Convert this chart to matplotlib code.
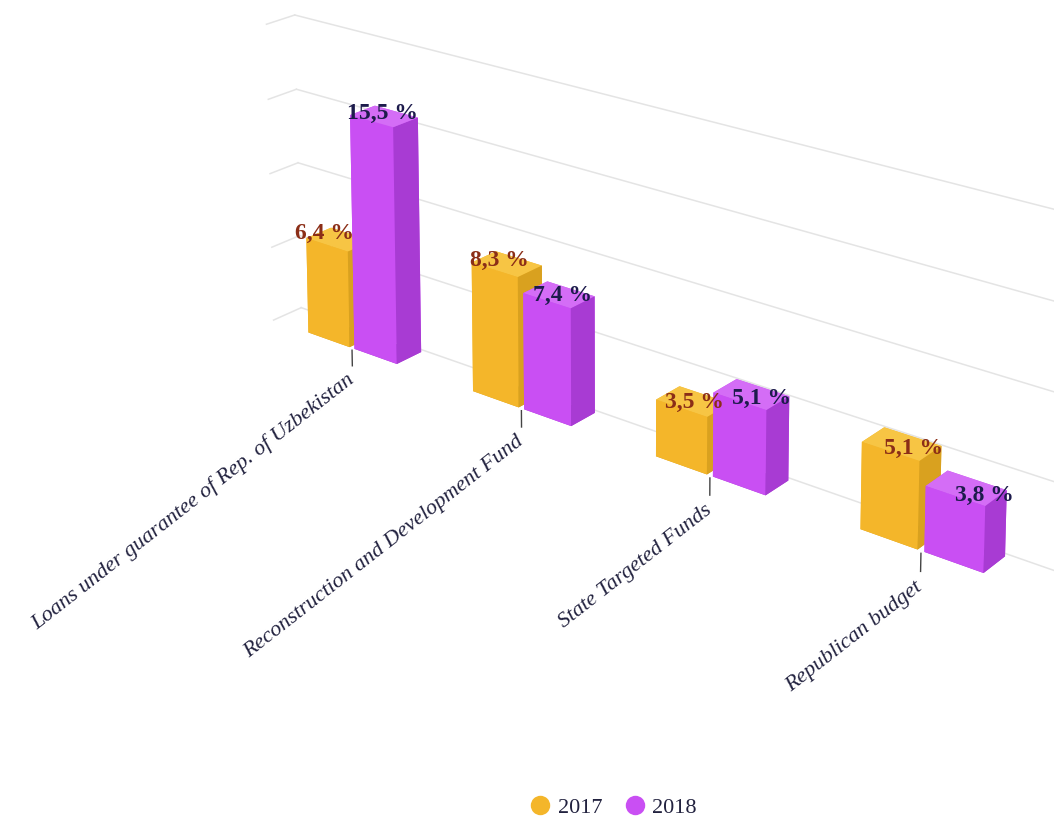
import numpy as np
import matplotlib
matplotlib.use("Agg")
import matplotlib.pyplot as plt
from matplotlib.lines import Line2D
from mpl_toolkits.mplot3d import proj3d

# ---------------- data ----------------
categories = ["Loans under guarantee of Rep. of Uzbekistan",
              "Reconstruction and Development Fund",
              "State Targeted Funds",
              "Republican budget"]
series_names = ["2017", "2018"]
values_2017 = [6.4, 8.3, 3.5, 5.1]
values_2018 = [15.5, 7.4, 5.1, 3.8]
labels_2017 = ["6,4 %", "8,3 %", "3,5 %", "5,1 %"]
labels_2018 = ["15,5 %", "7,4 %", "5,1 %", "3,8 %"]
grid_values = [0, 5, 10, 15, 20]

# ---------------- style ----------------
plt.rcParams['font.family'] = ['Liberation Serif', 'DejaVu Serif']

c2017 = dict(front='#f4b62a', top='#f7c544', side='#d9a11f', label='#8b2e17')
c2018 = dict(front='#c94ff3', top='#d46df6', side='#a83bd3', label='#1d1b4c')
grid_color = '#e4e4e4'
text_color = '#22223f'

W, H = 1054, 827
bar_w = 0.26
gap = 0.03
bar_d = 0.16
depth = 0.18

fig = plt.figure(figsize=(W / 100, H / 100), dpi=100)
ax = fig.add_axes([-0.3, -0.4, 1.6, 1.8], projection='3d', computed_zorder=False)
ax.set_proj_type('persp', focal_length=0.5)
ax.set_axis_off()

n = len(categories)
xs = np.arange(n, dtype=float)
x2017 = xs - gap / 2 - bar_w
x2018 = xs + gap / 2


def faces(c):
    # order: bottom, top, front(-y), back(+y), left(-x), right(+x)
    return [c['side'], c['top'], c['front'], c['front'], c['front'], c['side']]

bx, by, bz, dx, dy, dz, cols = [], [], [], [], [], [], []
for i in range(n):
    for x0, v, c in ((x2017[i], values_2017[i], c2017), (x2018[i], values_2018[i], c2018)):
        bx.append(x0); by.append(0.0); bz.append(0.0)
        dx.append(bar_w); dy.append(bar_d); dz.append(v)
        cols.extend(faces(c))

# grid lines: left wall + back wall
xmin, xmax = -0.5, n + 1.5
for g in grid_values:
    ax.plot([xmin, xmin], [0, depth], [g, g], color=grid_color, lw=1.1, zorder=1)
    ax.plot([xmin, xmax], [depth, depth], [g, g], color=grid_color, lw=1.1, zorder=1)

ax.bar3d(bx, by, bz, dx, dy, dz, color=cols, shade=False, zorder=2,
         edgecolor='none', linewidth=0)

# x-axis ticks
for i in range(n):
    ax.plot([xs[i], xs[i]], [0, 0], [-0.15, -1.2], color='#444444', lw=1.0, zorder=3)

ax.set_xlim(-0.5, n - 0.5)
ax.set_ylim(0, depth)
ax.set_zlim(0, 20)
ax.set_box_aspect((n, depth, 0.92))
ax.view_init(elev=15, azim=-52)

fig.canvas.draw()
M = ax.get_proj()


def to2d(x, y, z):
    px, py, _ = proj3d.proj_transform(x, y, z, M)
    return px, py

# fit the 2D view window (layout of the projected chart inside the figure)
bb = ax.bbox
a1 = to2d(0, 0, 0)
a4 = to2d(3, 0, 0)
atop = to2d(xmin, depth, 20)
tx1, tx4 = 352, 921            # target pixel columns for first/last category
ty1, tytop = H - 348, H - 15   # target pixel rows (from bottom)
sx = (tx4 - tx1) / (a4[0] - a1[0])
sy = (tytop - ty1) / (atop[1] - a1[1])
vx0 = a1[0] - (tx1 - bb.x0) / sx
vy0 = a1[1] - (ty1 - bb.y0) / sy
ax.viewLim.intervalx = (vx0, vx0 + bb.width / sx)
ax.viewLim.intervaly = (vy0, vy0 + bb.height / sy)

# data labels
for i in range(n):
    for x0, v, lab, c, frac in ((x2017[i], values_2017[i], labels_2017[i], c2017, 0.45 + 0.15 * i),
                                (x2018[i], values_2018[i], labels_2018[i], c2018, 0.75 + 0.08 * i)):
        px, py = to2d(x0 + bar_w * frac, 0, v)
        ax.text2D(px, py, lab, transform=ax.transData, ha='center', va='bottom',
                  fontsize=17, fontweight='bold', color=c['label'], zorder=5)

# category labels
for i in range(n):
    px, py = to2d(xs[i], 0, -2.0)
    ax.text2D(px, py, categories[i], transform=ax.transData, ha='right', va='center',
              rotation=38, rotation_mode='anchor', fontsize=16, style='italic',
              color=text_color, zorder=5)

handles = [Line2D([], [], marker='o', ls='none', markersize=14,
                  markerfacecolor=c['front'], markeredgecolor='none')
           for c in (c2017, c2018)]
fig.legend(handles, series_names, loc='center', bbox_to_anchor=(0.582, 0.023), ncol=2,
           frameon=False, fontsize=16, handlelength=0.9, handletextpad=0.35,
           columnspacing=1.0, labelcolor=text_color)

fig.savefig('out.png', dpi=100)
